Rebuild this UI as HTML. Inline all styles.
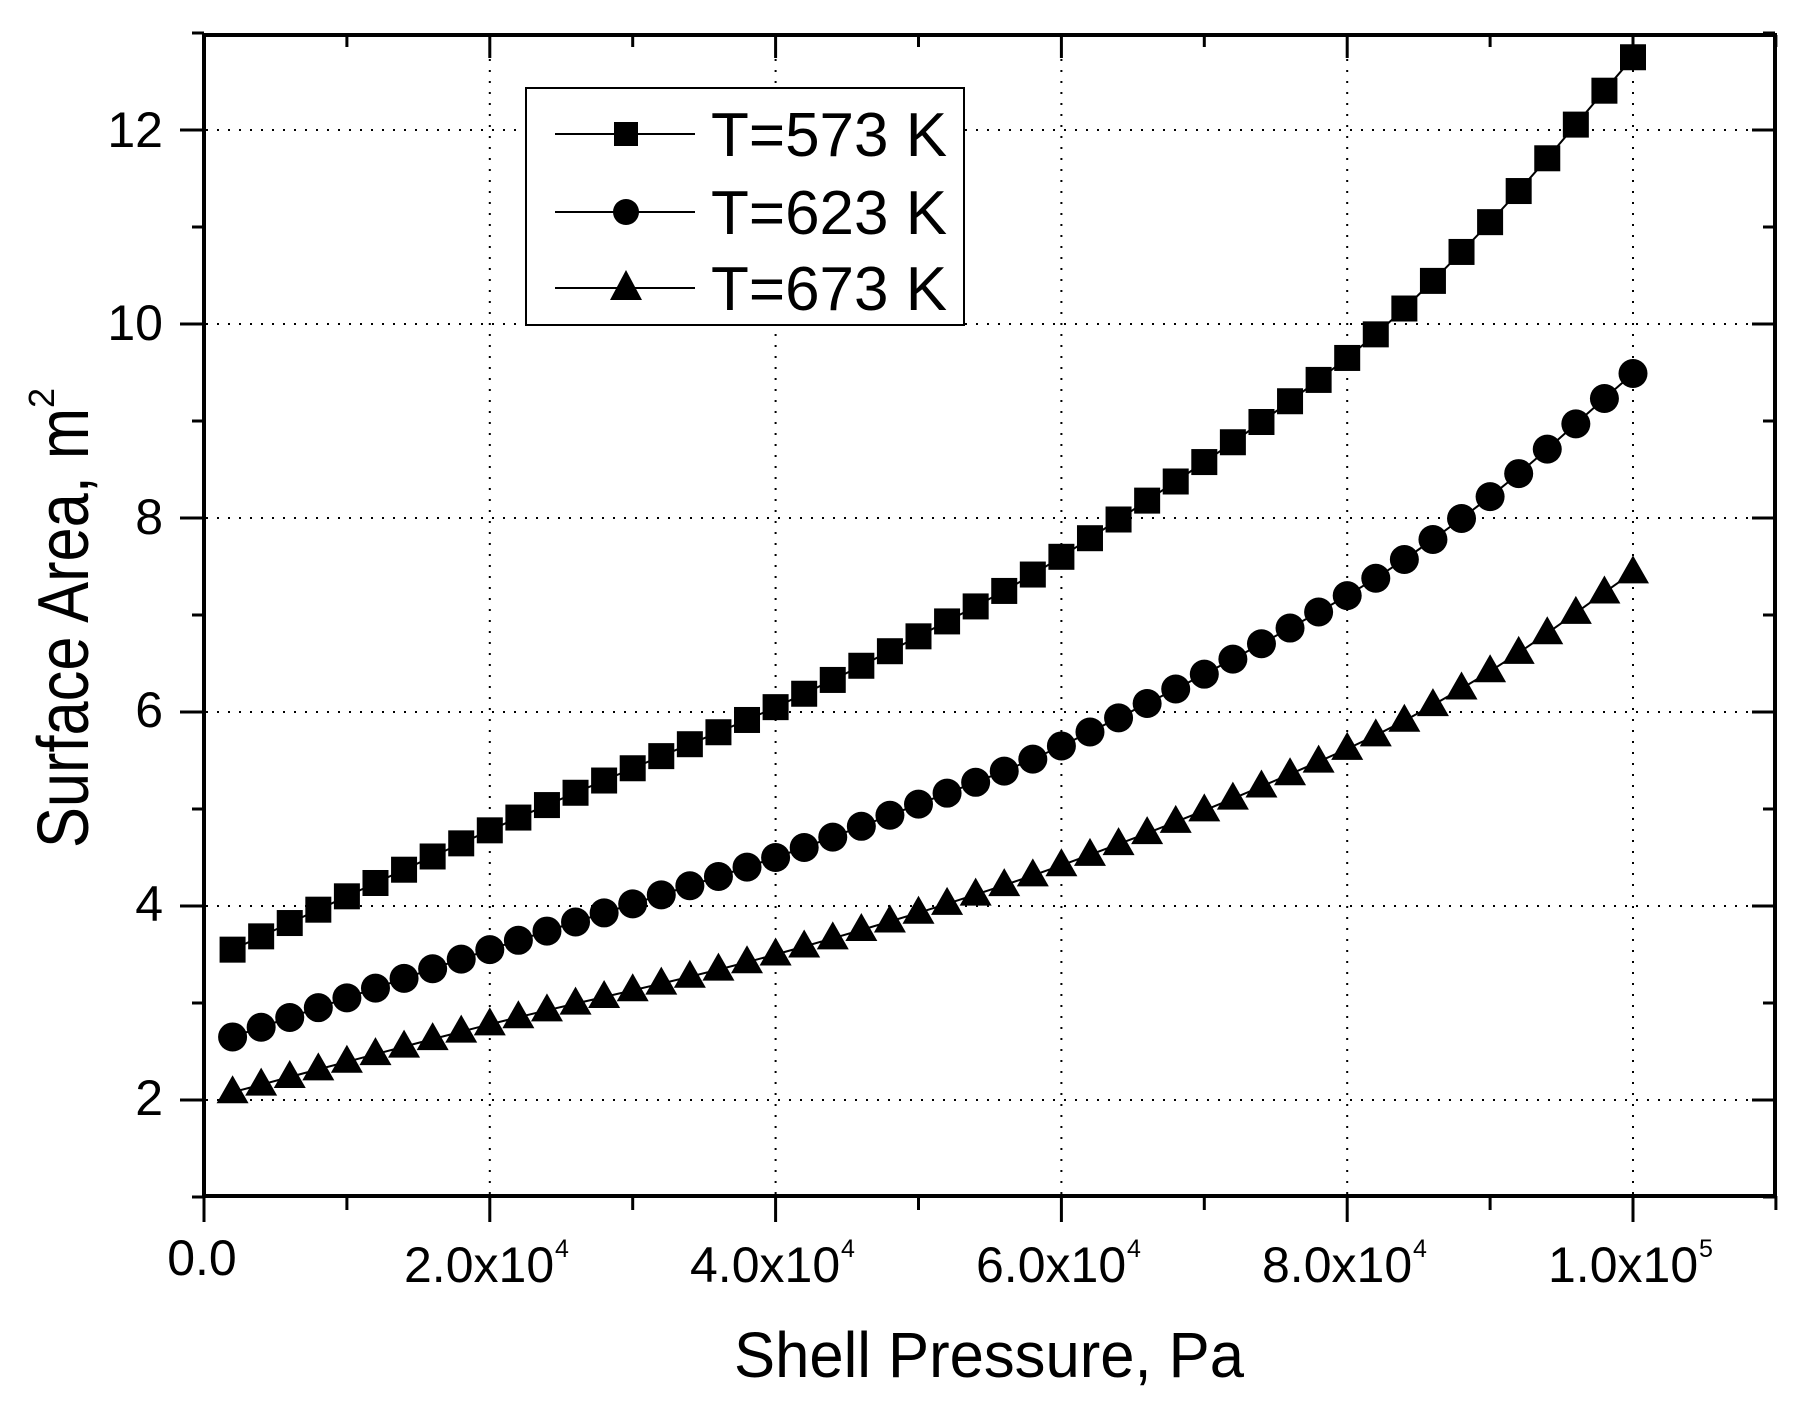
<!DOCTYPE html>
<html><head><meta charset="utf-8"><style>
html,body{margin:0;padding:0;background:#fff;}
svg{display:block;font-family:"Liberation Sans",Arial,sans-serif;}
</style></head><body>
<svg id="s" width="1798" height="1408" viewBox="0 0 1798 1408" xmlns="http://www.w3.org/2000/svg">
<rect width="1798" height="1408" fill="#fff"/>
<g id="grid" stroke="#000" stroke-width="2" stroke-dasharray="2,9"></g>
<g id="ticks" stroke="#000"></g>
<rect x="204" y="35" width="1571" height="1161" fill="none" stroke="#000" stroke-width="4"/>
<g id="series"></g>
<g font-size="50" text-anchor="end">
<text x="163" y="147">12</text>
<text x="163" y="340">10</text>
<text x="163" y="534">8</text>
<text x="163" y="727">6</text>
<text x="163" y="921">4</text>
<text x="163" y="1115">2</text>
</g>
<g font-size="50">
<text x="202" y="1275" text-anchor="middle">0.0</text>
<text x="404" y="1282">2.0x10</text><text x="555" y="1257" font-size="25">4</text>
<text x="690" y="1282">4.0x10</text><text x="841" y="1257" font-size="25">4</text>
<text x="976" y="1282">6.0x10</text><text x="1127" y="1257" font-size="25">4</text>
<text x="1262" y="1282">8.0x10</text><text x="1413" y="1257" font-size="25">4</text>
<text x="1548" y="1282">1.0x10</text><text x="1699" y="1257" font-size="25">5</text>
</g>
<text x="734" y="1377" font-size="64" textLength="510" lengthAdjust="spacingAndGlyphs">Shell Pressure, Pa</text>
<text transform="translate(88,848) rotate(-90)" font-size="72"><tspan textLength="440" lengthAdjust="spacingAndGlyphs">Surface Area, m</tspan><tspan font-size="36" dy="-34">2</tspan></text>
<rect x="526" y="88" width="438" height="237" fill="#fff" stroke="#000" stroke-width="2"/>
<g stroke="#000" stroke-width="2">
<line x1="555" y1="134" x2="695" y2="134"/>
<line x1="555" y1="212" x2="695" y2="212"/>
<line x1="555" y1="288" x2="695" y2="288"/>
</g>
<rect x="614" y="122" width="24" height="24"/>
<circle cx="626" cy="212" r="13"/>
<polygon points="626,270 642,300 610,300"/>
<g font-size="62">
<text x="711" y="156">T=573 K</text>
<text x="711" y="234">T=623 K</text>
<text x="711" y="310">T=673 K</text>
</g>
</svg>
<script>
var NS="http://www.w3.org/2000/svg";
function X(p){return 204+p*0.01429;}
function Y(v){return 1197-(v-1)*97;}
function el(t,a,parent){var e=document.createElementNS(NS,t);for(var k in a)e.setAttribute(k,a[k]);parent.appendChild(e);return e;}
var grid=document.getElementById('grid'),ticks=document.getElementById('ticks'),ser=document.getElementById('series');
for(var i=1;i<=5;i++){var x=X(i*20000);el('line',{x1:x,y1:37,x2:x,y2:1194},grid);}
for(var v=2;v<=12;v+=2){var y=Y(v);el('line',{x1:206,y1:y,x2:1773,y2:y},grid);}
for(var i=0;i<=11;i++){var x=X(i*10000);var maj=i%2==0;
 el('line',{x1:x,y1:1196,x2:x,y2:maj?1222:1210,'stroke-width':3},ticks);
 el('line',{x1:x,y1:35,x2:x,y2:maj?58:47,'stroke-width':3},ticks);}
for(var v=1;v<=13;v++){var y=Y(v);var maj=v%2==0;
 el('line',{x1:204,y1:y,x2:maj?180:192,y2:y,'stroke-width':3},ticks);
 el('line',{x1:1775,y1:y,x2:maj?1752:1763,y2:y,'stroke-width':3},ticks);}
function interp(A,p){for(var i=0;i<A.length-1;i++){if(p<=A[i+1][0]){
 var p0=A[Math.max(i-1,0)],p1=A[i],p2=A[i+1],p3=A[Math.min(i+2,A.length-1)];
 var t=(p-p1[0])/(p2[0]-p1[0]);
 var m1=(p2[1]-p0[1])/(p2[0]-p0[0])*(p2[0]-p1[0]);
 var m2=(p3[1]-p1[1])/(p3[0]-p1[0])*(p2[0]-p1[0]);
 var t2=t*t,t3=t2*t;
 return (2*t3-3*t2+1)*p1[1]+(t3-2*t2+t)*m1+(-2*t3+3*t2)*p2[1]+(t3-t2)*m2;}}return A[A.length-1][1];}
var S=[
 [[2000,3.55],[20000,4.78],[30000,5.42],[40000,6.05],[50000,6.78],[60000,7.6],[80000,9.65],[90000,11.05],[100000,12.75]],
 [[2000,2.65],[20000,3.55],[40000,4.5],[50000,5.05],[60000,5.65],[80000,7.2],[90000,8.22],[100000,9.49]],
 [[2000,2.08],[20000,2.78],[40000,3.5],[60000,4.42],[80000,5.62],[90000,6.42],[100000,7.44]]];
for(var s=0;s<3;s++){var pts=[];
 for(var p=2000;p<=100000;p+=2000){pts.push([X(p),Y(interp(S[s],p))]);}
 el('polyline',{points:pts.map(function(q){return q[0].toFixed(1)+','+q[1].toFixed(1)}).join(' '),fill:'none',stroke:'#000','stroke-width':2},ser);
 pts.forEach(function(q){
  if(s==0)el('rect',{x:q[0]-13,y:q[1]-13,width:26,height:26},ser);
  else if(s==1)el('circle',{cx:q[0],cy:q[1],r:14.5},ser);
  else el('polygon',{points:(q[0])+','+(q[1]-17)+' '+(q[0]+16)+','+(q[1]+11)+' '+(q[0]-16)+','+(q[1]+11)},ser);
 });}
</script>
</body></html>
